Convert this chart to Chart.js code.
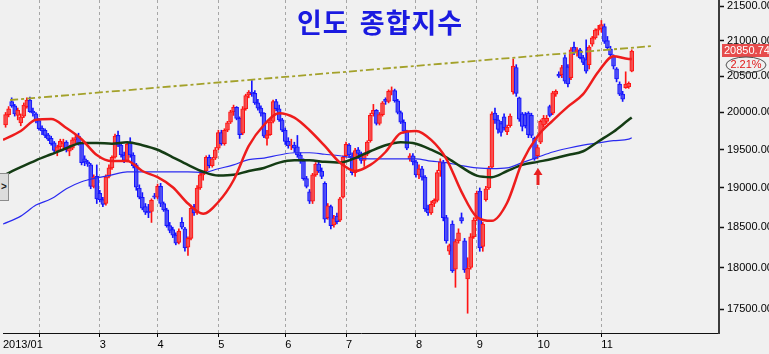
<!DOCTYPE html>
<html>
<head>
<meta charset="utf-8">
<script src="https://cdn.jsdelivr.net/npm/chart.js@4"></script>
<style>
  html, body { margin: 0; padding: 0; background: #f0f0f0; }
  #wrap { position: relative; width: 769px; height: 354px; overflow: hidden; }
  #chart { position: absolute; left: 0; top: 0; }
  #title {
    position: absolute; left: 297px; top: 2px;
    font: bold 27px "Noto Sans CJK KR", sans-serif;
    letter-spacing: 1px; word-spacing: 4px;
    color: #1a1ae0; white-space: pre;
  }
  #navBtn {
    position: absolute; left: 0; top: 173px; width: 8px; height: 26px;
    background: #dcdcdc; border: 1px solid #8c8c8c; border-left: none;
    font: bold 10px "Liberation Sans", Arial, sans-serif; color: #222;
    line-height: 26px; text-align: center;
  }
</style>
</head>
<body>
<div id="wrap">
  <canvas id="chart" width="769" height="354"></canvas>
  <div id="title">인도 종합지수</div>
  <div id="navBtn">&gt;</div>
</div>
<script>
// Daily candles, 2013-01-17 .. 2013-11-18 (index = trading day)
const opens = [
  19830,19970,20150,20090,19960,19860,19950,20080,20170,20020,19980,
  19890,19790,19760,19700,19650,19590,19480,19540,19580,19600,19480,19520,19630,19680,19580,19380,19340,19300,19020,19150,
  18930,18850,18800,19150,19260,19400,19690,19560,19430,19360,19600,19430,19300,19000,18880,18760,18700,18700,18900,
  18880,19020,18800,18720,18520,18470,18400,18310,18560,18480,18250,18360,18760,18680,19000,19170,19220,19400,19290,19390,
  19520,19730,19580,19760,19870,20010,20070,19920,19720,20050,20240,20280,20260,20130,20060,19990,19650,19700,19880,20150,20050,19900,
  19760,19610,19550,19560,19540,19430,19350,19120,18950,18830,19170,19310,19220,19060,18620,18760,18530,18640,18590,18880,
  19420,19560,19420,19200,19500,19450,19360,19440,19620,19980,20030,19850,19970,20180,20150,20290,20300,20160,20000,19870,19750,19380,19420,
  19340,19170,19250,19140,18730,18680,18800,18840,19220,19330,18620,18200,18540,17980,18330,18620,18330,17860,18000,18380,
  18600,18960,18260,18850,19000,19270,19990,19900,19850,19940,19740,19820,20280,20620,20200,19980,19970,19990,19960,19650,
  19420,19600,19830,19880,20080,19990,20250,20530,20520,20760,20630,20480,20910,20840,20870,20760,20730,20660,20950,21040,21150,
  21170,21200,21000,20880,20780,20600,20390,20250,20340,20350,20570
];
const highs = [
  20000,20080,20200,20110,20060,19980,20130,20200,20210,20060,20000,
  19920,19820,19780,19720,19680,19610,19560,19640,19640,19620,19560,19660,19700,19720,19590,19420,19360,19320,19170,19300,
  18970,18880,19170,19300,19420,19710,19750,19580,19470,19590,19660,19460,19320,19040,18940,18800,18790,18860,18930,
  19050,19060,18820,18740,18560,18500,18430,18480,18620,18500,18380,18780,18790,19030,19200,19220,19420,19430,19400,19530,
  19760,19760,19780,19880,20030,20100,20080,19940,20080,20250,20300,20440,20300,20180,20090,20000,19760,19900,20170,20180,20100,19920,
  19790,19660,19640,19600,19690,19460,19380,19150,18980,19190,19330,19360,19260,19080,18800,18780,18650,18680,18880,19420,
  19600,19580,19460,19520,19530,19470,19460,19620,19990,20110,20040,20000,20150,20200,20310,20350,20320,20180,20020,19900,19760,19450,19450,
  19360,19300,19280,19160,18780,18830,18860,19230,19380,19360,18650,18290,18580,18350,18480,18680,18360,18120,18420,18620,
  18960,19000,18560,19020,19280,20010,20060,19960,19880,19980,19830,19980,20740,20660,20210,20000,20000,20010,19990,19670,
  19560,19900,19960,19960,20100,20290,20310,20560,20650,20800,20660,20900,20980,20900,20890,20790,21010,20930,21060,21170,21220,
  21290,21240,21060,20920,20800,20620,20420,20290,20560,20420,20870
];
const lows = [
  19800,19940,20070,19950,19900,19820,19930,20060,20000,19950,19860,
  19760,19700,19660,19620,19560,19460,19420,19500,19520,19470,19420,19500,19590,19560,19300,19290,19280,18990,19000,18800,
  18820,18760,18780,19130,19240,19390,19540,19400,19330,19340,19400,19260,18970,18860,18720,18660,18620,18560,18860,
  18860,18760,18700,18500,18430,18370,18280,18290,18480,18200,18150,18340,18650,18660,18980,19100,19200,19260,19270,19370,
  19500,19560,19560,19740,19850,19960,19900,19650,19700,20030,20200,20220,20110,20030,19950,19660,19560,19690,19860,20020,19880,19740,
  19570,19520,19500,19470,19400,19320,19100,19000,18800,18800,19150,19200,19120,18560,18600,18480,18500,18540,18570,18870,
  19400,19400,19170,19150,19420,19320,19280,19420,19600,19950,19830,19830,19950,20110,20130,20240,20140,19980,19850,19720,19500,19350,19300,
  19140,19120,19100,18700,18650,18660,18760,18820,19150,18580,18300,18160,17940,17760,18300,18550,17940,17450,17980,18360,
  18580,18200,18200,18830,18980,19250,19850,19720,19680,19760,19700,19800,20250,20220,19880,19750,19790,19660,19660,19360,
  19380,19580,19800,19850,19940,19970,20220,20480,20480,20400,20350,20450,20800,20780,20740,20660,20540,20600,20920,21020,21080,
  21120,20960,20880,20780,20600,20420,20230,20150,20330,20330,20560
];
const closes = [
  19970,20050,20090,19980,20030,19940,20100,20170,20010,19990,19890,
  19780,19750,19690,19640,19580,19490,19540,19610,19600,19500,19520,19630,19660,19580,19330,19340,19310,19020,19140,18860,
  18850,18790,19140,19260,19400,19680,19560,19430,19360,19570,19430,19290,19010,18880,18740,18690,18680,18840,18880,
  19020,18800,18720,18520,18460,18400,18300,18450,18500,18240,18360,18740,18680,19000,19170,19190,19400,19290,19380,19500,
  19730,19580,19760,19860,20010,20070,19920,19700,20050,20230,20280,20260,20130,20060,19990,19680,19700,19870,20150,20050,19900,19760,
  19610,19550,19560,19520,19430,19350,19120,19020,18830,19170,19310,19220,19150,18600,18770,18520,18610,18570,18860,19400,
  19570,19430,19200,19490,19450,19360,19440,19600,19960,20030,19850,19970,20130,20150,20290,20300,20160,20000,19870,19750,19520,19420,19340,
  19170,19250,19140,18730,18680,18790,18840,19200,19340,18620,18330,18270,17960,18320,18430,18580,17970,17990,18380,18590,
  18930,18240,18540,18990,19260,19980,19900,19770,19730,19790,19800,19950,20640,20260,19910,19810,19820,19700,19690,19380,
  19530,19880,19920,19920,19960,20270,20290,20500,20620,20430,20390,20870,20830,20870,20760,20690,20570,20910,21040,21150,21170,
  21230,20990,20900,20800,20640,20460,20250,20180,20390,20400,20850.74
];

// moving averages at these trading-day positions
const maIdx = [-0.85,5,10,15,20,25,30,35,40,45,50,55,60,65,70,75,80,85,90,95,100,
  105,110,115,120,125,130,135,140,145,150,155,160,165,170,175,180,185,190,195,200,205,206];
const maShort = [19630,19750,19900,19910,19790,19640,19430,19350,19350,19220,19140,19010,18800,18670,18820,19100,19550,19830,19990,19930,19760,
  19550,19330,19220,19300,19470,19720,19750,19630,19380,18950,18630,18580,18810,19340,19680,19890,20080,20250,20560,20780,20740,20740];
const maMid = [19160,19270,19360,19440,19520,19590,19590,19580,19600,19560,19500,19400,19300,19210,19160,19170,19220,19260,19330,19360,19360,
  19340,19330,19390,19480,19560,19600,19580,19500,19400,19270,19160,19140,19220,19300,19340,19380,19430,19480,19610,19740,19900,19930];
const maLong = [18540,18640,18780,18860,18990,19080,19130,19170,19210,19210,19210,19210,19210,19200,19250,19300,19370,19390,19430,19460,19460,
  19440,19420,19390,19380,19380,19380,19380,19350,19330,19290,19260,19250,19260,19330,19400,19470,19520,19560,19590,19620,19640,19660];

const trendIdx = [1.5, 213];
const trendVal = [20170, 20924];

const monthTicks = [-0.85, 11, 31, 50, 70, 92, 112, 135, 155, 175, 196];
const monthLabels = ['2013/01', '', '3', '4', '5', '6', '7', '8', '9', '10', '11'];
const priceTicks = [17500, 18000, 18500, 19000, 19500, 20000, 20500, 21000, 21500];

const lastPrice = '20850.74';
const lastChange = '2.21%';
const arrowIdx = 175;

const upLine = '#ff1414', upFill = 'rgba(242,95,95,0.7)';
const downLine = '#1414ff', downFill = 'rgba(95,95,240,0.7)';
const FONT = '"Liberation Sans", Arial, sans-serif';

const idx = closes.map((_, i) => i);
const isUp = i => closes[i] >= opens[i];

// price tag, change bubble and the red arrow
const overlay = {
  id: 'overlay',
  afterDraw(chart) {
    const { ctx, scales: { x, y } } = chart;
    const py = Math.round(y.getPixelForValue(closes[closes.length - 1]));
    ctx.save();
    ctx.fillStyle = '#e64c4c';
    ctx.fillRect(722, py - 7, 50, 13);
    ctx.font = '11px ' + FONT;
    ctx.textBaseline = 'middle';
    ctx.fillStyle = '#ffffff';
    ctx.fillText(lastPrice, 724, py);

    ctx.strokeStyle = '#505050';
    ctx.lineWidth = 1;
    ctx.beginPath();
    ctx.ellipse(746, py + 14, 20, 8, 0, 0, Math.PI * 2);
    ctx.stroke();
    ctx.fillStyle = '#e01818';
    ctx.textAlign = 'center';
    ctx.fillText(lastChange, 746, py + 14);

    const ax = Math.round(x.getPixelForValue(arrowIdx));
    const ay = Math.round(y.getPixelForValue(lows[arrowIdx])) + 9;
    ctx.fillStyle = '#e82020';
    ctx.beginPath();
    ctx.moveTo(ax, ay);
    ctx.lineTo(ax - 4.5, ay + 7);
    ctx.lineTo(ax + 4.5, ay + 7);
    ctx.closePath();
    ctx.fill();
    ctx.fillRect(ax - 1.5, ay + 6, 3, 11);
    ctx.restore();
  }
};

new Chart(document.getElementById('chart'), {
  type: 'bar',
  data: {
    datasets: [
      {
        type: 'line', label: 'MA short',
        data: maIdx.map((v, k) => ({ x: v, y: maShort[k] })),
        borderColor: '#ee1c1c', borderWidth: 2.5, pointRadius: 0,
        cubicInterpolationMode: 'monotone', order: 0
      },
      {
        type: 'line', label: 'MA mid',
        data: maIdx.map((v, k) => ({ x: v, y: maMid[k] })),
        borderColor: '#143c14', borderWidth: 2.5, pointRadius: 0,
        cubicInterpolationMode: 'monotone', order: 0
      },
      {
        type: 'line', label: 'MA long',
        data: maIdx.map((v, k) => ({ x: v, y: maLong[k] })),
        borderColor: '#2a2af0', borderWidth: 1.2, pointRadius: 0,
        cubicInterpolationMode: 'monotone', order: 0
      },
      {
        type: 'line', label: 'trend',
        data: trendIdx.map((v, k) => ({ x: v, y: trendVal[k] })),
        borderColor: '#a3a12a', borderWidth: 1.8, borderDash: [8, 3, 3, 3],
        pointRadius: 0, order: 0
      },
      {
        label: 'body',
        data: idx.map(i => ({ x: i, y: [opens[i], closes[i]] })),
        backgroundColor: idx.map(i => isUp(i) ? upFill : downFill),
        borderColor: idx.map(i => isUp(i) ? upLine : downLine),
        borderWidth: 1, borderSkipped: false,
        barThickness: 4, grouped: false, order: 1
      },
      {
        label: 'wick',
        data: idx.map(i => ({ x: i, y: [lows[i], highs[i]] })),
        backgroundColor: idx.map(i => isUp(i) ? upLine : downLine),
        borderWidth: 0, barThickness: 1, grouped: false, order: 2
      }
    ]
  },
  options: {
    responsive: false,
    devicePixelRatio: 1,
    animation: false,
    layout: { padding: { left: 3, right: 0, top: 0, bottom: 0 } },
    plugins: { legend: { display: false }, tooltip: { enabled: false } },
    scales: {
      x: {
        type: 'linear', min: -0.85, max: 234.7, bounds: 'data',
        offset: false,
        afterBuildTicks: s => { s.ticks = monthTicks.map(v => ({ value: v })); },
        afterFit: s => { s.height = 21; s.paddingLeft = 0; s.paddingRight = 0; },
        ticks: {
          align: 'start', autoSkip: false, maxRotation: 0, minRotation: 0,
          padding: 1, color: '#000', font: { size: 11, family: FONT },
          callback: (v, i) => monthLabels[i] ?? ''
        },
        grid: {
          offset: false,
          color: c => c.index === 0 ? 'rgba(0,0,0,0)' : '#a6a6a6',
          tickColor: c => c.index === 0 ? 'rgba(0,0,0,0)' : '#000',
          lineWidth: 1, tickLength: 4, borderDash: [3, 3]
        },
        border: { display: true, color: '#111', width: 1, dash: [3, 3] }
      },
      y: {
        type: 'logarithmic', position: 'right',
        min: 17217, max: 21588, bounds: 'data', beginAtZero: false,
        afterBuildTicks: s => { s.ticks = priceTicks.map(v => ({ value: v })); },
        afterFit: s => { s.width = 50; s.paddingTop = 0; s.paddingBottom = 0; },
        ticks: {
          padding: 3, color: '#000', font: { size: 11, family: FONT },
          callback: v => Number(v).toFixed(2)
        },
        grid: { drawOnChartArea: false, drawTicks: true, tickLength: 5, tickColor: '#111', tickWidth: 1.5 },
        border: { display: true, color: '#3c3c3c', width: 2 }
      }
    }
  },
  plugins: [overlay]
});
</script>
</body>
</html>
